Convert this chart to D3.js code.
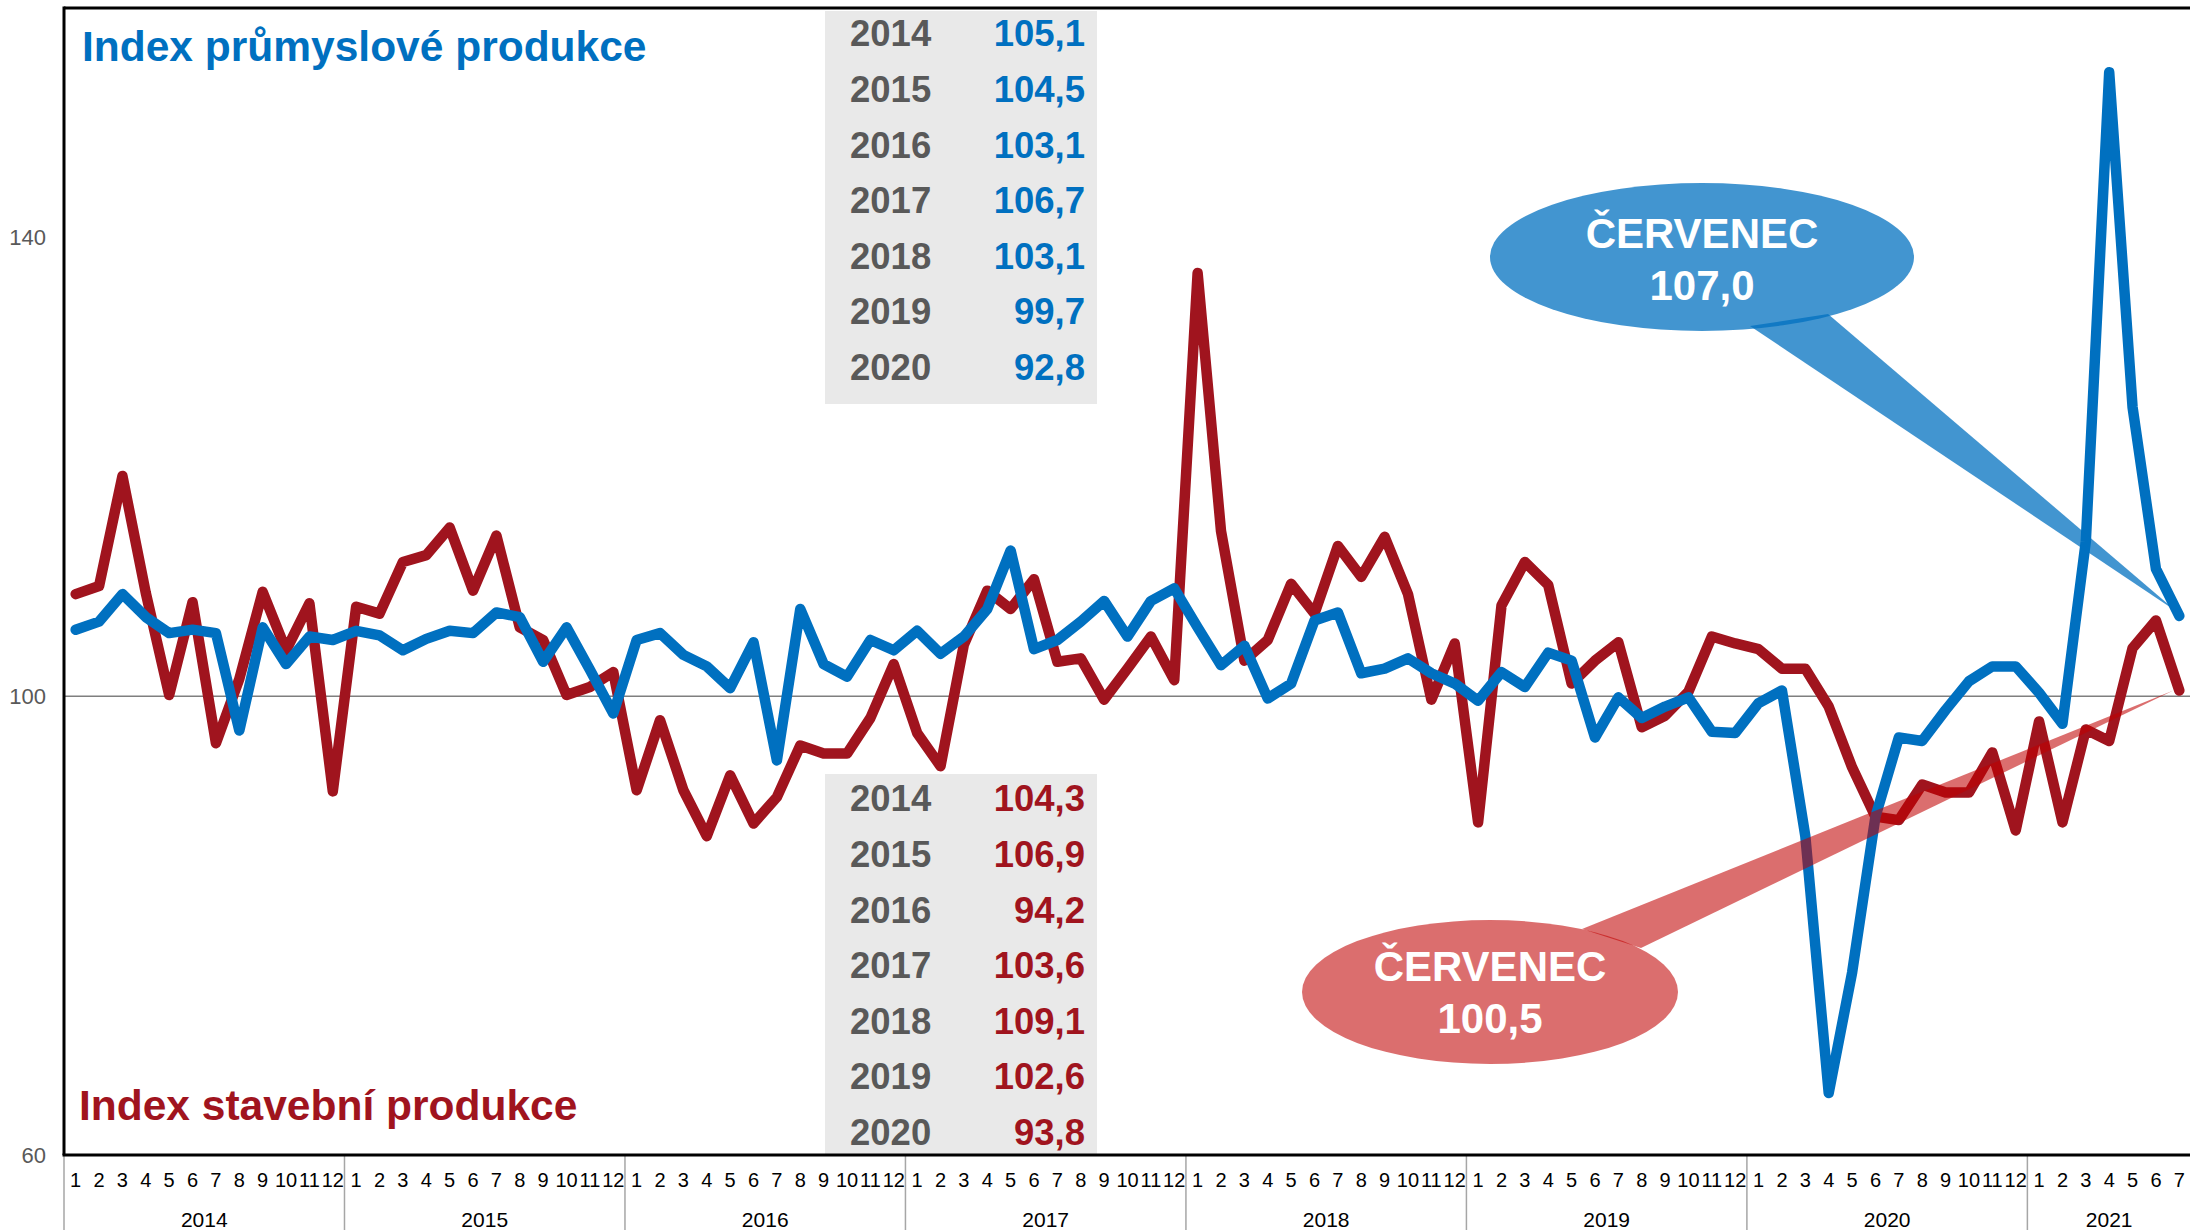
<!DOCTYPE html>
<html>
<head>
<meta charset="utf-8">
<script src="https://cdn.jsdelivr.net/npm/d3@7"></script>
<style>
  body { margin: 0; background: #fff; }
  svg { display: block; font-family: "Liberation Sans", Arial, sans-serif; }
</style>
</head>
<body>
<svg width="2190" height="1230"></svg>
<script>
// roky na ose x a počet měsíců v každém roce
const years = [2014, 2015, 2016, 2017, 2018, 2019, 2020, 2021];
const monthsInYear = [12, 12, 12, 12, 12, 12, 12, 7];

// index průmyslové produkce (modrá)
const prumysl = [
  105.8, 106.5, 108.9, 106.9, 105.5, 105.8, 105.5, 97.0, 106.0, 102.8, 105.2, 104.9,
  105.7, 105.3, 104.0, 105.0, 105.7, 105.5, 107.3, 106.9, 103.0, 106.0, 102.3, 98.5,
  104.9, 105.5, 103.6, 102.6, 100.7, 104.7, 94.4, 107.6, 102.8, 101.7, 104.9, 104.0,
  105.7, 103.7, 105.2, 107.6, 112.7, 104.1, 104.9, 106.5, 108.3, 105.2, 108.3, 109.4,
  106.0, 102.7, 104.4, 99.8, 101.1, 106.6, 107.3, 102.0, 102.4, 103.3, 102.0, 101.1,
  99.6, 102.1, 100.8, 103.8, 103.1, 96.4, 99.9, 98.1, 99.1, 99.9, 96.9, 96.8,
  99.4, 100.5, 87.8, 65.4, 75.9, 89.5, 96.4, 96.1, 98.8, 101.3, 102.6, 102.6,
  100.3, 97.6, 113.5, 154.4, 125.2, 111.1, 107.0
];

// index stavební produkce (červená)
const stavebni = [
  108.9, 109.6, 119.2, 109.0, 100.1, 108.2, 95.9, 101.5, 109.1, 104.0, 108.1, 91.7,
  107.8, 107.2, 111.7, 112.3, 114.7, 109.2, 114.0, 106.0, 104.9, 100.1, 100.8, 102.1,
  91.8, 97.9, 91.8, 87.8, 93.1, 88.9, 91.2, 95.7, 95.0, 95.0, 98.1, 102.8,
  96.8, 93.9, 104.5, 109.2, 107.6, 110.2, 103.0, 103.3, 99.7, 102.4, 105.2, 101.4,
  136.9, 114.4, 103.1, 104.9, 109.8, 107.2, 113.1, 110.4, 113.9, 108.9, 99.7, 104.6,
  89.0, 107.9, 111.7, 109.7, 101.1, 103.1, 104.7, 97.3, 98.3, 100.4, 105.2, 104.6,
  104.1, 102.4, 102.4, 99.1, 93.8, 89.5, 89.2, 92.3, 91.6, 91.6, 95.1, 88.3,
  97.8, 89.0, 97.1, 96.1, 104.2, 106.6, 100.5
];

// roční hodnoty v tabulkách
const tableYears = ['2014', '2015', '2016', '2017', '2018', '2019', '2020'];
const tablePrumysl = ['105,1', '104,5', '103,1', '106,7', '103,1', '99,7', '92,8'];
const tableStavebni = ['104,3', '106,9', '94,2', '103,6', '109,1', '102,6', '93,8'];

const yTicks = [60, 100, 140];
const calloutPrumysl = ['ČERVENEC', '107,0'];
const calloutStavebni = ['ČERVENEC', '100,5'];

const BLUE = '#0070C0';
const RED = '#A0141E';
const GREY_TEXT = '#595959';

const plotLeft = 64, plotRight = 2191, plotTop = 8, plotBottom = 1155;

// popisky měsíců 1..12 pro každý rok
const monthLabels = [];
monthsInYear.forEach(n => { for (let m = 1; m <= n; m++) monthLabels.push(String(m)); });

const x = d3.scaleBand().domain(d3.range(monthLabels.length)).range([plotLeft, plotRight]);
const mid = i => x(i) + x.bandwidth() / 2;
const y = d3.scaleLinear().domain([60, 160]).range([plotBottom, plotTop]);

const svg = d3.select('svg');

// čára 100
svg.append('line')
  .attr('x1', plotLeft).attr('x2', 2190)
  .attr('y1', y(100)).attr('y2', y(100))
  .attr('stroke', '#7f7f7f').attr('stroke-width', 1.5);

// šedé tabulky
function table(y0, h, baseline0, values, color) {
  svg.append('rect')
    .attr('x', 825).attr('y', y0).attr('width', 272).attr('height', h)
    .attr('fill', '#E9E9E9');
  const g = svg.append('g').attr('font-size', 36.5).attr('font-weight', 'bold');
  g.selectAll('.yr').data(tableYears).enter().append('text')
    .attr('x', 850).attr('y', (d, i) => baseline0 + i * 55.6)
    .attr('fill', GREY_TEXT).text(d => d);
  g.selectAll('.val').data(values).enter().append('text')
    .attr('x', 1085).attr('y', (d, i) => baseline0 + i * 55.6)
    .attr('text-anchor', 'end').attr('fill', color).text(d => d);
}
table(11, 393, 46.3, tablePrumysl, BLUE);
table(774, 381, 811.3, tableStavebni, RED);

// rámeček
svg.append('line').attr('x1', plotLeft).attr('x2', 2190).attr('y1', plotTop).attr('y2', plotTop)
  .attr('stroke', '#000').attr('stroke-width', 3);
svg.append('line').attr('x1', plotLeft).attr('x2', plotLeft).attr('y1', plotTop - 1.5).attr('y2', plotBottom)
  .attr('stroke', '#000').attr('stroke-width', 3);

// osa y
const yAxis = svg.append('g').attr('transform', `translate(${plotLeft},0)`)
  .call(d3.axisLeft(y).tickValues(yTicks).tickSize(0).tickPadding(18));
yAxis.select('.domain').remove();
yAxis.selectAll('text').attr('font-size', 22).attr('fill', GREY_TEXT)
  .attr('font-family', '"Liberation Sans", Arial, sans-serif');

// osa x - měsíce
const xAxis = svg.append('g').attr('transform', `translate(0,${plotBottom})`)
  .call(d3.axisBottom(x).tickSize(0).tickPadding(18).tickFormat(i => monthLabels[i]));
xAxis.select('.domain').remove();
xAxis.selectAll('text').attr('font-size', 20).attr('fill', '#000')
  .attr('font-family', '"Liberation Sans", Arial, sans-serif');

// roky a oddělovače
let start = 0;
const yearSpans = years.map((yr, k) => {
  const s = start; start += monthsInYear[k];
  return { yr, x0: x(s), x1: x(s) + monthsInYear[k] * x.bandwidth() };
});
svg.selectAll('.sep').data(yearSpans).enter().append('line')
  .attr('x1', d => d.x0).attr('x2', d => d.x0)
  .attr('y1', plotBottom).attr('y2', 1230)
  .attr('stroke', '#a6a6a6').attr('stroke-width', 1.5);
svg.selectAll('.yearlbl').data(yearSpans).enter().append('text')
  .attr('x', d => (d.x0 + d.x1) / 2).attr('y', 1227)
  .attr('text-anchor', 'middle').attr('font-size', 21).attr('fill', '#000')
  .text(d => d.yr);

svg.append('line').attr('x1', plotLeft - 1.5).attr('x2', 2190).attr('y1', plotBottom).attr('y2', plotBottom)
  .attr('stroke', '#000').attr('stroke-width', 3);

// řady
const line = d3.line().x((d, i) => mid(i)).y(d => y(d));
svg.append('path').datum(stavebni).attr('d', line)
  .attr('fill', 'none').attr('stroke', RED).attr('stroke-width', 10.5)
  .attr('stroke-linejoin', 'round').attr('stroke-linecap', 'round');
svg.append('path').datum(prumysl).attr('d', line)
  .attr('fill', 'none').attr('stroke', BLUE).attr('stroke-width', 10.5)
  .attr('stroke-linejoin', 'round').attr('stroke-linecap', 'round');

// nadpisy
svg.append('text').attr('x', 82).attr('y', 61)
  .attr('font-size', 42.5).attr('font-weight', 'bold').attr('fill', BLUE)
  .text('Index průmyslové produkce');
svg.append('text').attr('x', 79).attr('y', 1120)
  .attr('font-size', 42.5).attr('font-weight', 'bold').attr('fill', RED)
  .text('Index stavební produkce');

// bubliny s posledním měsícem
const last = prumysl.length - 1;
function callout(cx, cy, rx, ry, base, tip, fill, opacity, lines, baselines) {
  const g = svg.append('g');
  g.append('path')
    .attr('d', `M${base[0][0]},${base[0][1]}L${tip[0]},${tip[1]}L${base[1][0]},${base[1][1]}Z`)
    .attr('fill', fill).attr('opacity', opacity);
  g.append('ellipse').attr('cx', cx).attr('cy', cy).attr('rx', rx).attr('ry', ry)
    .attr('fill', fill).attr('opacity', opacity);
  g.selectAll('text').data(lines).enter().append('text')
    .attr('x', cx).attr('y', (d, i) => baselines[i])
    .attr('text-anchor', 'middle').attr('font-size', 42).attr('font-weight', 'bold')
    .attr('fill', '#fff').text(d => d);
}
callout(1702, 257, 212, 74, [[1750, 326], [1828, 314]],
  [mid(last) - 2, y(prumysl[last]) - 4], BLUE, 0.74, calloutPrumysl, [248, 300]);
callout(1490, 992, 188, 72, [[1582, 929], [1641, 948]],
  [mid(last) - 6, y(stavebni[last])], '#C00000', 0.57, calloutStavebni, [981, 1033]);
</script>
</body>
</html>
